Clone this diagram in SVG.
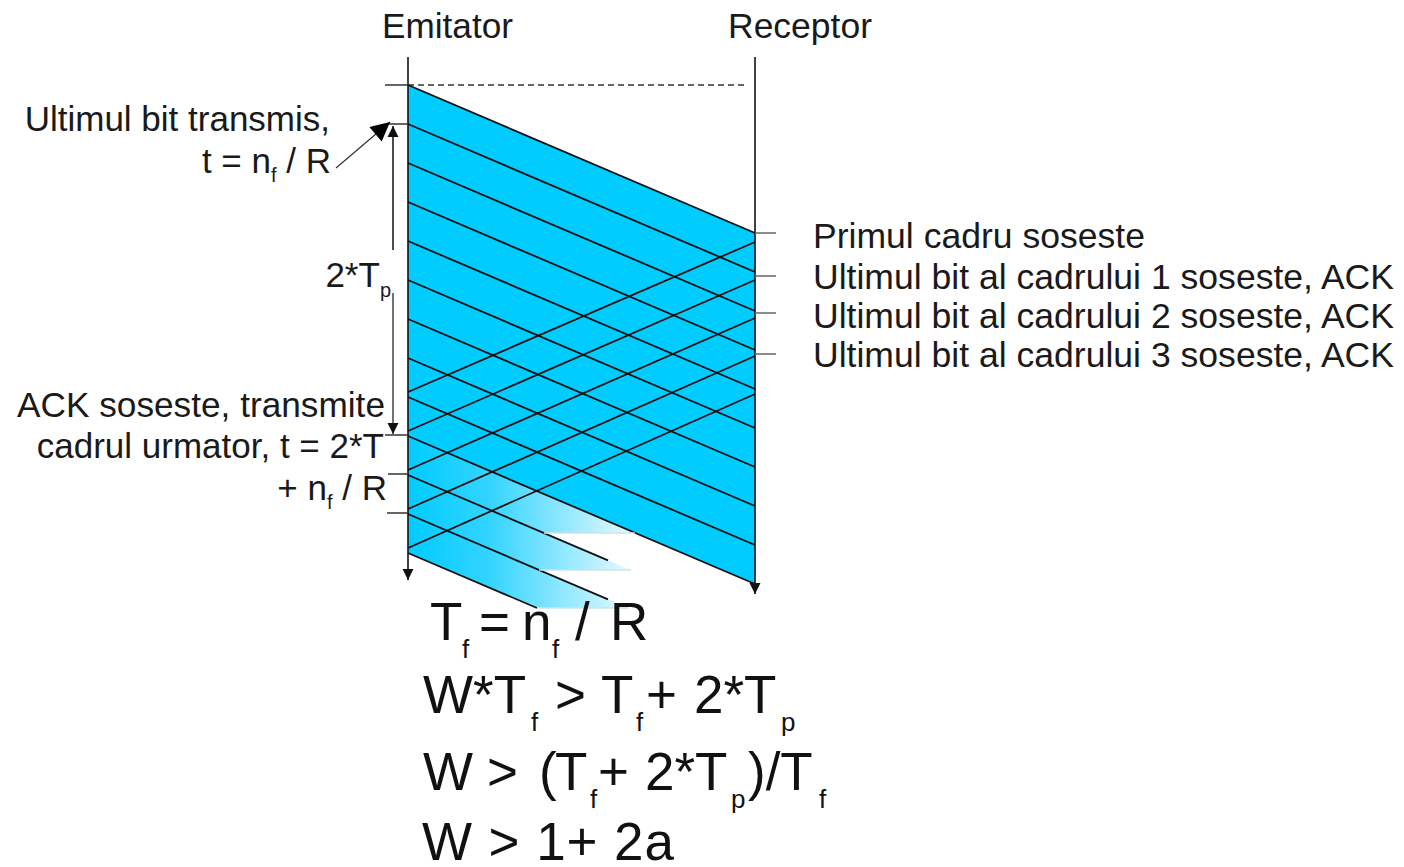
<svg xmlns="http://www.w3.org/2000/svg" width="1404" height="867" viewBox="0 0 1404 867">
<style>
  .lbl { font-family: "Liberation Sans", Arial, sans-serif; font-size: 35px; fill: #1a1a1a; }
  .sub { font-size: 20px; }
  .frm { font-family: "Liberation Sans", Arial, sans-serif; font-size: 53px; fill: #111; }
  .fsub { font-size: 26px; }
  .life { stroke: #111; stroke-width: 1.6; fill: none; }
  .wire { stroke: #111; stroke-width: 1.8; fill: none; }
  .tick { stroke: #333; stroke-width: 1.5; }
  .rtick { stroke: #666; stroke-width: 1.5; }
  .cut { stroke: #cfe2ea; stroke-width: 1.5; }
</style>
<defs>
  <marker id="arrS" viewBox="0 0 10 10" refX="10" refY="5" markerUnits="userSpaceOnUse" markerWidth="11" markerHeight="13" orient="auto-start-reverse">
    <path d="M0,0 L10,5 L0,10 z" fill="#111"/>
  </marker>
  <marker id="arrBig" viewBox="0 0 10 10" refX="10" refY="5" markerUnits="userSpaceOnUse" markerWidth="27" markerHeight="19" orient="auto">
    <path d="M0,0 L10,5 L0,10 z" fill="#000"/>
  </marker>
  <linearGradient id="fade" gradientUnits="userSpaceOnUse" x1="408" y1="0" x2="640" y2="0">
    <stop offset="0" stop-color="#00ccff"/>
    <stop offset="0.35" stop-color="#33d4ff"/>
    <stop offset="1" stop-color="#f2fcff"/>
  </linearGradient>
</defs>

<g id="frames">
  <polygon points="408,85 755,233 755,584 408,436" fill="#00ccff"/>
  <polygon points="408,436 635.4,533 544,533 408,475" fill="url(#fade)"/>
  <polygon points="408,475 630.7,570 539.3,570 408,514" fill="url(#fade)"/>
  <polygon points="408,514 628.4,608 537,608 408,553" fill="url(#fade)"/>
</g>

<g id="emitator">
  <text class="lbl" x="382" y="38" textLength="131" lengthAdjust="spacingAndGlyphs">Emitator</text>
  <line class="life" x1="408" y1="57" x2="408" y2="580" marker-end="url(#arrS)"/>
</g>

<g id="receptor">
  <text class="lbl" x="728" y="38" textLength="144" lengthAdjust="spacingAndGlyphs">Receptor</text>
  <line class="life" x1="755" y1="57" x2="755" y2="594" marker-end="url(#arrS)"/>
</g>

<g id="connectors">
  <line x1="385" y1="85" x2="408" y2="85" class="tick"/>
  <line x1="408" y1="85" x2="748" y2="85" stroke="#333" stroke-width="1.5" stroke-dasharray="6 4"/>
  <line class="wire" x1="408" y1="85" x2="755" y2="233"/>
  <line class="wire" x1="408" y1="124" x2="755" y2="272"/>
  <line class="wire" x1="408" y1="163" x2="755" y2="311"/>
  <line class="wire" x1="408" y1="202" x2="755" y2="350"/>
  <line class="wire" x1="408" y1="241" x2="755" y2="389"/>
  <line class="wire" x1="408" y1="280" x2="755" y2="428"/>
  <line class="wire" x1="408" y1="319" x2="755" y2="467"/>
  <line class="wire" x1="408" y1="358" x2="755" y2="506"/>
  <line class="wire" x1="408" y1="397" x2="755" y2="545"/>
  <line class="wire" x1="408" y1="436" x2="755" y2="584"/>
  <line class="wire" x1="408" y1="475" x2="608" y2="560.3"/>
  <line class="wire" x1="408" y1="514" x2="608" y2="599.3"/>
  <line class="wire" x1="408" y1="553" x2="537" y2="608"/>
  <line class="wire" x1="755" y1="242" x2="408" y2="392"/>
  <line class="wire" x1="755" y1="280" x2="408" y2="431"/>
  <line class="wire" x1="755" y1="318" x2="408" y2="470"/>
  <line class="wire" x1="755" y1="356" x2="408" y2="509"/>
  <line class="wire" x1="755" y1="394" x2="408" y2="548"/>
  <line class="cut" x1="544" y1="533" x2="635" y2="533"/>
  <line class="cut" x1="539" y1="570" x2="631" y2="570"/>
  <line class="cut" x1="537" y1="608" x2="628" y2="608"/>
  <line class="tick" x1="388" y1="124" x2="408" y2="124"/>
  <line class="tick" x1="385" y1="435" x2="408" y2="435"/>
  <line class="tick" x1="388" y1="474" x2="408" y2="474"/>
  <line class="tick" x1="387" y1="513" x2="408" y2="513"/>
  <line class="rtick" x1="755" y1="233" x2="776" y2="233"/>
  <line class="rtick" x1="755" y1="276" x2="776" y2="276"/>
  <line class="rtick" x1="755" y1="313" x2="776" y2="313"/>
  <line class="rtick" x1="755" y1="354" x2="776" y2="354"/>
  <line x1="393" y1="250" x2="393" y2="126" stroke="#111" stroke-width="1.5" marker-end="url(#arrS)"/>
  <line x1="393" y1="293" x2="393" y2="434" stroke="#444" stroke-width="1.5" marker-end="url(#arrS)"/>
  <line x1="336" y1="168" x2="390" y2="122" stroke="#333" stroke-width="1.2" marker-end="url(#arrBig)"/>
</g>

<g id="labels-left">
  <text class="lbl" x="330" y="131" text-anchor="end">Ultimul bit transmis,</text>
  <text class="lbl" x="331" y="173" text-anchor="end">t = n<tspan class="sub" dy="9">f</tspan><tspan dy="-9"> / R</tspan></text>
  <text class="lbl" x="391" y="287" text-anchor="end">2*T<tspan class="sub" dy="10">p</tspan></text>
  <text class="lbl" x="385" y="417" text-anchor="end" textLength="368" lengthAdjust="spacingAndGlyphs">ACK soseste, transmite</text>
  <text class="lbl" x="384" y="458" text-anchor="end">cadrul urmator, t = 2*T</text>
  <text class="lbl" x="387" y="500" text-anchor="end">+ n<tspan class="sub" dy="9">f</tspan><tspan dy="-9"> / R</tspan></text>
</g>

<g id="labels-right">
  <text class="lbl" x="813" y="248" textLength="332" lengthAdjust="spacingAndGlyphs">Primul cadru soseste</text>
  <text class="lbl" x="813" y="289" textLength="581" lengthAdjust="spacingAndGlyphs">Ultimul bit al cadrului 1 soseste, ACK</text>
  <text class="lbl" x="813" y="328" textLength="581" lengthAdjust="spacingAndGlyphs">Ultimul bit al cadrului 2 soseste, ACK</text>
  <text class="lbl" x="813" y="367" textLength="581" lengthAdjust="spacingAndGlyphs">Ultimul bit al cadrului 3 soseste, ACK</text>
</g>

<g id="formulas">
  <text class="frm" y="640"><tspan x="430">T</tspan><tspan class="fsub" x="462" y="658">f</tspan><tspan x="479" y="640">=</tspan><tspan x="522">n</tspan><tspan class="fsub" x="552" y="658">f</tspan><tspan x="575" y="640">/</tspan><tspan x="610">R</tspan></text>
  <text class="frm" y="713"><tspan x="423">W*T</tspan><tspan class="fsub" x="531" y="731">f</tspan><tspan x="555" y="713">&gt;</tspan><tspan x="601">T</tspan><tspan class="fsub" x="636" y="731">f</tspan><tspan x="646" y="713">+</tspan><tspan x="694">2*T</tspan><tspan class="fsub" x="781" y="731">p</tspan></text>
  <text class="frm" y="790"><tspan x="423">W</tspan><tspan x="487">&gt;</tspan><tspan x="539">(</tspan><tspan x="555">T</tspan><tspan class="fsub" x="590" y="808">f</tspan><tspan x="598" y="790">+</tspan><tspan x="645">2*T</tspan><tspan class="fsub" x="731" y="808">p</tspan><tspan x="748" y="790">)/T</tspan><tspan class="fsub" x="819" y="808">f</tspan></text>
  <text class="frm" x="422" y="860" textLength="252" lengthAdjust="spacing">W &gt; 1+ 2a</text>
</g>
</svg>
